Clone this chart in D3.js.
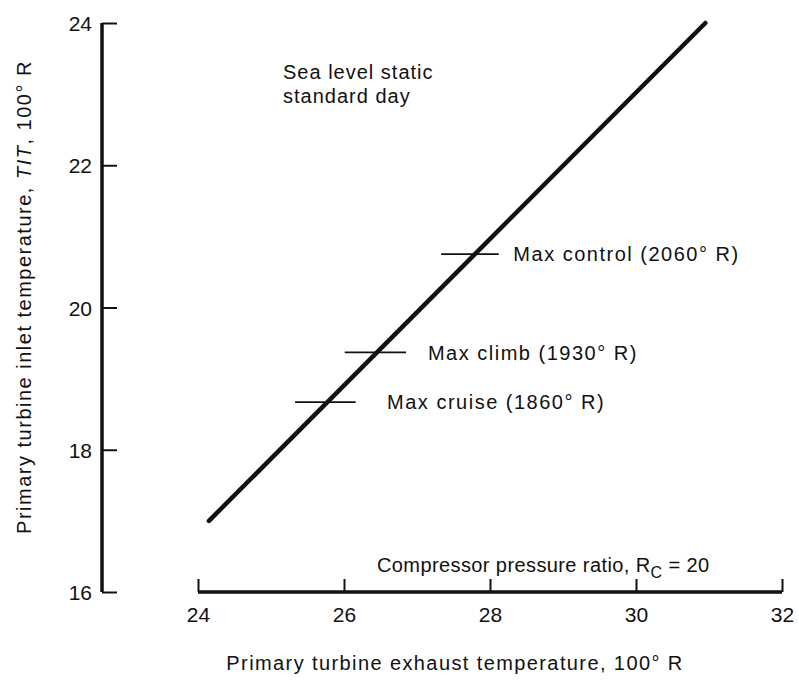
<!DOCTYPE html>
<html>
<head>
<meta charset="utf-8">
<script src="https://cdn.jsdelivr.net/npm/d3@7"></script>
<style>
  html, body { margin: 0; padding: 0; background: #fff; }
  svg text { font-family: "Liberation Sans", Arial, Helvetica, sans-serif; fill: #111; }
</style>
</head>
<body>
<svg id="chart" width="799" height="680"></svg>
<script>
// ---- data ----
const xTicks = [24, 26, 28, 30, 32];
const yTicks = [16, 18, 20, 22, 24];
// operating line: exhaust temp (100 R) vs inlet temp (100 R)
const lineX = [24.15, 30.95];
const lineY = [17.0, 24.0];
// operating point markers
const markerNames = ["Max control (2060\u00B0 R)", "Max climb (1930\u00B0 R)", "Max cruise (1860\u00B0 R)"];
const markerTIT = [20.75, 19.37, 18.67];
const markerFrom = [27.33, 26.01, 25.33];
const markerTo = [28.12, 26.85, 26.16];
const markerLabelX = [28.32, 27.15, 26.59];

const svg = d3.select("#chart");
const x = d3.scaleLinear().domain([24, 32]).range([198, 782]);
const y = d3.scaleLinear().domain([16, 24]).range([592, 23]);

// y axis
const yAxis = d3.axisRight(y).tickValues(yTicks).tickSize(15).tickFormat(d3.format("d"));
const gy = svg.append("g").attr("transform", "translate(102,0)").call(yAxis);
gy.select(".domain").attr("d", `M0,${y(24)}V${y(16)}`).attr("stroke", "#111").attr("stroke-width", 3.5);
gy.selectAll(".tick line").attr("stroke", "#111").attr("stroke-width", 2);
gy.selectAll(".tick text").attr("x", -10).attr("text-anchor", "end").attr("dy", "0.36em")
  .style("font-size", "21px");

// x axis
const xAxis = d3.axisTop(x).tickValues(xTicks).tickSize(13).tickFormat(d3.format("d"));
const gx = svg.append("g").attr("transform", `translate(0,${y(16)})`).call(xAxis);
gx.select(".domain").attr("d", `M${x(24)},0H${x(32)}`).attr("stroke", "#111").attr("stroke-width", 3.5);
gx.selectAll(".tick line").attr("stroke", "#111").attr("stroke-width", 2);
gx.selectAll(".tick text").attr("y", 30).attr("dy", "0").attr("text-anchor", "middle")
  .style("font-size", "21px");

// main line
svg.append("path")
  .datum(lineX.map((d, i) => [d, lineY[i]]))
  .attr("d", d3.line().x(d => x(d[0])).y(d => y(d[1])))
  .attr("fill", "none").attr("stroke", "#111").attr("stroke-width", 4.5).attr("stroke-linecap", "round");

// markers
markerNames.forEach((name, i) => {
  svg.append("line")
    .attr("x1", x(markerFrom[i])).attr("x2", x(markerTo[i]))
    .attr("y1", y(markerTIT[i])).attr("y2", y(markerTIT[i]))
    .attr("stroke", "#111").attr("stroke-width", 1.8);
  svg.append("text")
    .attr("x", x(markerLabelX[i])).attr("y", y(markerTIT[i]))
    .attr("dy", "0.36em")
    .style("font-size", "20px").style("letter-spacing", "1.5px")
    .text(name);
});

// annotations
const ann = svg.append("text").style("font-size", "20px").style("letter-spacing", "1px");
ann.append("tspan").attr("x", 283).attr("y", 79).text("Sea level static");
ann.append("tspan").attr("x", 283).attr("y", 103).text("standard day");

const cp = svg.append("text").attr("x", 377).attr("y", 572).style("font-size", "20px").style("letter-spacing", "0.4px");
cp.append("tspan").text("Compressor pressure ratio, R");
cp.append("tspan").attr("dy", 6).style("font-size", "16px").text("C");
cp.append("tspan").attr("dy", -6).text(" = 20");

// axis titles
svg.append("text")
  .attr("x", 455).attr("y", 670).attr("text-anchor", "middle")
  .style("font-size", "20px").style("letter-spacing", "1.4px")
  .text("Primary turbine exhaust temperature, 100\u00B0 R");

const yt = svg.append("text")
  .attr("transform", "translate(31,297) rotate(-90)")
  .attr("text-anchor", "middle")
  .style("font-size", "20px").style("letter-spacing", "1.5px");
yt.append("tspan").text("Primary turbine inlet temperature, ");
yt.append("tspan").style("font-style", "italic").text("TIT");
yt.append("tspan").text(", 100\u00B0 R");
</script>
</body>
</html>
